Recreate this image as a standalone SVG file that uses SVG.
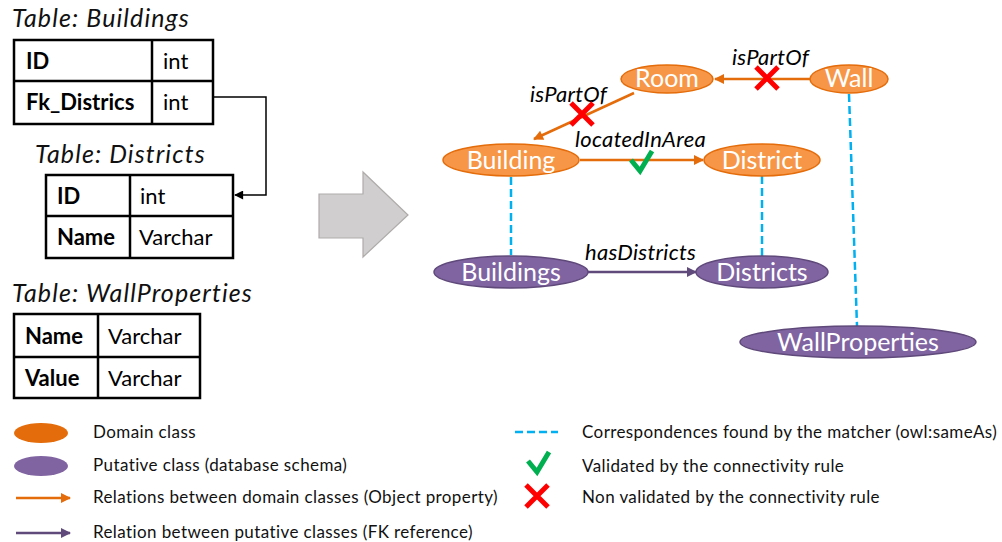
<svg xmlns="http://www.w3.org/2000/svg" xmlns:xlink="http://www.w3.org/1999/xlink" width="1002" height="542" viewBox="0 0 1002 542">
  <style>
    .title { font-family: Lato, "Liberation Sans", sans-serif; font-style: italic; font-size: 25px; letter-spacing: 1.1px; fill: #111; }
    .cell { fill: #fff; stroke: #000; stroke-width: 2.5; }
    .grid { stroke: #000; stroke-width: 2.5; }
    .key { font-family: Lato, "Liberation Sans", sans-serif; font-weight: bold; font-size: 22px; fill: #000; }
    .type { font-family: Lato, "Liberation Sans", sans-serif; font-size: 22px; fill: #000; }
    .dom { fill: #f79646; stroke: #e46c0a; stroke-width: 1.5; }
    .put { fill: #8064a2; stroke: #5f497a; stroke-width: 1.5; }
    .nlabel { font-family: Lato, "Liberation Sans", sans-serif; font-size: 25px; fill: #fff; text-anchor: middle; }
    .elabel { font-family: Lato, "Liberation Sans", sans-serif; font-style: italic; font-size: 22px; letter-spacing: 0.3px; fill: #000; }
    .orel { stroke: #e46c0a; stroke-width: 2.5; fill: none; }
    .prel { stroke: #604a7b; stroke-width: 2.5; fill: none; }
    .same { stroke: #00b0f0; stroke-width: 2.5; stroke-dasharray: 8 4; fill: none; }
    .legend { font-family: Lato, "Liberation Sans", sans-serif; font-size: 17px; letter-spacing: 0.4px; fill: #111; }
  </style>
  <defs>
    <marker id="ah-orange" viewBox="0 0 10 10" refX="9" refY="5" markerWidth="11" markerHeight="10" markerUnits="userSpaceOnUse" orient="auto">
      <path d="M0,0 L10,5 L0,10 z" fill="#e46c0a"/>
    </marker>
    <marker id="ah-purple" viewBox="0 0 10 10" refX="9" refY="5" markerWidth="11" markerHeight="10" markerUnits="userSpaceOnUse" orient="auto">
      <path d="M0,0 L10,5 L0,10 z" fill="#604a7b"/>
    </marker>
    <marker id="ah-black" viewBox="0 0 10 10" refX="9" refY="5" markerWidth="10" markerHeight="9" markerUnits="userSpaceOnUse" orient="auto">
      <path d="M0,0 L10,5 L0,10 z" fill="#000"/>
    </marker>
    <g id="cross">
      <path d="M-11,-11 L11,11 M11,-11 L-11,11" stroke="#ff0000" stroke-width="5" fill="none"/>
    </g>
    <g id="tick">
      <path d="M-10,-2 L-1,9 L11,-11" stroke="#00b050" stroke-width="5" fill="none"/>
    </g>
  </defs>

  <!-- relational tables -->
  <g id="table-buildings">
    <text class="title" x="12" y="27">Table: Buildings</text>
    <rect class="cell" x="14" y="40" width="199" height="84"/>
    <line class="grid" x1="14" y1="81" x2="213" y2="81"/>
    <line class="grid" x1="152" y1="40" x2="152" y2="124"/>
    <text class="key" x="26" y="69">ID</text>
    <text class="type" x="163" y="69">int</text>
    <text class="key" x="26" y="110">Fk_Districs</text>
    <text class="type" x="163" y="110">int</text>
  </g>

  <g id="table-districts">
    <text class="title" x="35" y="163">Table: Districts</text>
    <rect class="cell" x="46" y="175" width="187" height="83"/>
    <line class="grid" x1="46" y1="216" x2="233" y2="216"/>
    <line class="grid" x1="130" y1="175" x2="130" y2="258"/>
    <text class="key" x="57" y="204">ID</text>
    <text class="type" x="140" y="204">int</text>
    <text class="key" x="57" y="245">Name</text>
    <text class="type" x="139" y="245">Varchar</text>
  </g>

  <g id="table-wallproperties">
    <text class="title" x="12" y="302">Table: WallProperties</text>
    <rect class="cell" x="14" y="314" width="186" height="84"/>
    <line class="grid" x1="14" y1="357" x2="200" y2="357"/>
    <line class="grid" x1="98" y1="314" x2="98" y2="398"/>
    <text class="key" x="25" y="344">Name</text>
    <text class="type" x="108" y="344">Varchar</text>
    <text class="key" x="25" y="386">Value</text>
    <text class="type" x="108" y="386">Varchar</text>
  </g>

  <!-- foreign key link between the tables -->
  <g id="fk-link">
    <path d="M213,97 H266 V195 H235" fill="none" stroke="#000" stroke-width="1.5" marker-end="url(#ah-black)"/>
  </g>

  <!-- transformation arrow -->
  <g id="transform-arrow">
    <polygon points="319,194 363,194 363,172 408,215 363,257 363,238 319,238" fill="#d0cece" stroke="#afabab" stroke-width="1.2"/>
  </g>

  <!-- connectors -->
  <g id="connectors">
    <line class="same" x1="511" y1="177" x2="511" y2="255"/>
    <line class="same" x1="762" y1="176" x2="762" y2="257"/>
    <line class="same" x1="849" y1="94" x2="857" y2="326"/>

    <line class="orel" x1="810" y1="79" x2="715" y2="79" marker-end="url(#ah-orange)"/>
    <line class="orel" x1="634" y1="93" x2="534" y2="139" marker-end="url(#ah-orange)"/>
    <line class="orel" x1="580" y1="160" x2="703" y2="160" marker-end="url(#ah-orange)"/>
    <line class="prel" x1="588" y1="272" x2="696" y2="272" marker-end="url(#ah-purple)"/>

    <text class="elabel" x="732" y="65">isPartOf</text>
    <text class="elabel" x="530" y="102">isPartOf</text>
    <text class="elabel" x="575" y="147">locatedInArea</text>
    <text class="elabel" x="585" y="260">hasDistricts</text>

    <use xlink:href="#cross" href="#cross" x="767" y="78"/>
    <use xlink:href="#cross" href="#cross" x="582" y="114"/>
    <use xlink:href="#tick" href="#tick" x="641" y="162"/>
  </g>

  <!-- domain classes -->
  <g id="node-room">
    <ellipse class="dom" cx="667" cy="79" rx="46" ry="14"/>
    <text class="nlabel" x="667" y="87">Room</text>
  </g>
  <g id="node-wall">
    <ellipse class="dom" cx="849" cy="79" rx="39" ry="14"/>
    <text class="nlabel" x="849" y="87">Wall</text>
  </g>
  <g id="node-building">
    <ellipse class="dom" cx="511" cy="160" rx="68" ry="16"/>
    <text class="nlabel" x="511" y="169">Building</text>
  </g>
  <g id="node-district">
    <ellipse class="dom" cx="762" cy="160" rx="58" ry="16"/>
    <text class="nlabel" x="762" y="169">District</text>
  </g>

  <!-- putative classes -->
  <g id="node-buildings">
    <ellipse class="put" cx="511" cy="272" rx="77" ry="16"/>
    <text class="nlabel" x="511" y="281">Buildings</text>
  </g>
  <g id="node-districts">
    <ellipse class="put" cx="762" cy="272" rx="66" ry="16"/>
    <text class="nlabel" x="762" y="281">Districts</text>
  </g>
  <g id="node-wallproperties">
    <ellipse class="put" cx="858" cy="342" rx="118" ry="16"/>
    <text class="nlabel" x="858" y="351">WallProperties</text>
  </g>

  <!-- legend -->
  <g id="legend">
    <ellipse cx="41" cy="433" rx="27" ry="10" fill="#e46c0a"/>
    <text class="legend" x="93" y="438">Domain class</text>
    <ellipse cx="41" cy="466" rx="27" ry="10" fill="#8064a2"/>
    <text class="legend" x="93" y="471">Putative class (database schema)</text>
    <line class="orel" x1="16" y1="498" x2="70" y2="498" marker-end="url(#ah-orange)"/>
    <text class="legend" x="93" y="503">Relations between domain classes (Object property)</text>
    <line class="prel" x1="16" y1="533" x2="70" y2="533" marker-end="url(#ah-purple)"/>
    <text class="legend" x="93" y="538">Relation between putative classes (FK reference)</text>

    <line class="same" x1="515" y1="432" x2="558" y2="432"/>
    <text class="legend" x="582" y="438">Correspondences found by the matcher (owl:sameAs)</text>
    <use xlink:href="#tick" href="#tick" x="538" y="463"/>
    <text class="legend" x="582" y="472">Validated by the connectivity rule</text>
    <use xlink:href="#cross" href="#cross" x="537" y="496"/>
    <text class="legend" x="582" y="503">Non validated by the connectivity rule</text>
  </g>
</svg>
